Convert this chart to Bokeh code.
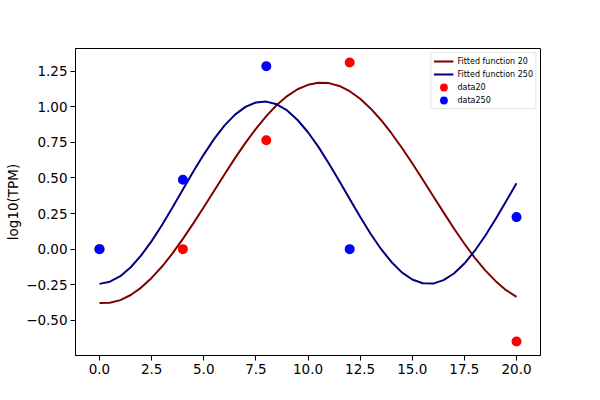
from bokeh.plotting import figure
from bokeh.models import Range1d, FixedTicker, Legend, LegendItem
from bokeh.embed import file_html
from bokeh.resources import INLINE

# ---- data ----
time_points = [0, 4, 8, 12, 20]
data20 = [0.0, 0.0, 0.765, 1.311, -0.649]
data250 = [0.0, 0.487, 1.285, 0.0, 0.225]

fit_x = [0.0, 0.5, 1.0, 1.5, 2.0, 2.5, 3.0, 3.5, 4.0, 4.5, 5.0, 5.5, 6.0, 6.5,
         7.0, 7.5, 8.0, 8.5, 9.0, 9.5, 10.0, 10.5, 11.0, 11.5, 12.0, 12.5, 13.0,
         13.5, 14.0, 14.5, 15.0, 15.5, 16.0, 16.5, 17.0, 17.5, 18.0, 18.5, 19.0,
         19.5, 20.0]
fit20 = [-0.379, -0.377, -0.358, -0.322, -0.270, -0.202, -0.122, -0.030, 0.072,
         0.181, 0.294, 0.410, 0.526, 0.639, 0.746, 0.845, 0.934, 1.012, 1.075,
         1.123, 1.154, 1.169, 1.166, 1.146, 1.109, 1.056, 0.988, 0.907, 0.814,
         0.712, 0.603, 0.489, 0.373, 0.258, 0.145, 0.038, -0.061, -0.149,
         -0.225, -0.288, -0.335]
fit250 = [-0.244, -0.229, -0.190, -0.127, -0.044, 0.056, 0.169, 0.292, 0.419,
          0.545, 0.664, 0.774, 0.869, 0.945, 0.999, 1.030, 1.036, 1.017, 0.974,
          0.907, 0.821, 0.718, 0.602, 0.479, 0.352, 0.227, 0.108, 0.001, -0.090,
          -0.163, -0.213, -0.240, -0.242, -0.218, -0.171, -0.101, -0.011, 0.094,
          0.211, 0.336, 0.463]

x_ticks = [0.0, 2.5, 5.0, 7.5, 10.0, 12.5, 15.0, 17.5, 20.0]
x_tick_labels = ["0.0", "2.5", "5.0", "7.5", "10.0", "12.5", "15.0", "17.5", "20.0"]
y_ticks = [-0.75, -0.5, -0.25, 0.0, 0.25, 0.5, 0.75, 1.0, 1.25]
y_tick_labels = ["\u22120.75", "\u22120.50", "\u22120.25", "0.00", "0.25", "0.50",
                 "0.75", "1.00", "1.25"]

FONT = "DejaVu Sans"

p = figure(width=584, height=384, output_backend="svg", toolbar_location=None,
           x_range=Range1d(-1.15, 21.15), y_range=Range1d(-0.747, 1.409),
           min_border_left=75, min_border_right=44, min_border_top=48,
           min_border_bottom=29)
p.background_fill_color = "white"
p.border_fill_color = "white"
p.outline_line_color = "black"
p.outline_line_width = 1
p.xgrid.visible = False
p.ygrid.visible = False

l20 = p.line(fit_x, fit20, line_color="#800000", line_width=2)
l250 = p.line(fit_x, fit250, line_color="#000080", line_width=2)
s20 = p.scatter(time_points, data20, size=7, line_width=3,
                fill_color="#ff0000", line_color="#ff0000")
s250 = p.scatter(time_points, data250, size=7, line_width=3,
                 fill_color="#0000ff", line_color="#0000ff")

for ax in (p.xaxis[0], p.yaxis[0]):
    ax.axis_line_color = "black"
    ax.major_tick_line_color = "black"
    ax.major_tick_out = 5
    ax.major_tick_in = 0
    ax.minor_tick_line_color = None
    ax.major_label_text_font = FONT
    ax.major_label_text_font_size = "13.5px"
    ax.major_label_text_color = "black"
    ax.major_label_standoff = 3

p.xaxis.ticker = FixedTicker(ticks=x_ticks)
p.xaxis.major_label_overrides = {t: l for t, l in zip(x_ticks, x_tick_labels)}
p.yaxis.ticker = FixedTicker(ticks=y_ticks)
p.yaxis.major_label_overrides = {t: l for t, l in zip(y_ticks, y_tick_labels)}

p.yaxis.axis_label = "log10(TPM)"
p.yaxis.axis_label_text_font = FONT
p.yaxis.axis_label_text_font_size = "13.5px"
p.yaxis.axis_label_text_font_style = "normal"
p.yaxis.axis_label_text_color = "black"
p.yaxis.axis_label_standoff = 2

legend = Legend(items=[
    LegendItem(label="Fitted function 20", renderers=[l20]),
    LegendItem(label="Fitted function 250", renderers=[l250]),
    LegendItem(label="data20", renderers=[s20]),
    LegendItem(label="data250", renderers=[s250]),
], location="top_right")
legend.label_text_font = FONT
legend.label_text_font_size = "8px"
legend.label_text_color = "black"
legend.label_height = 12
legend.glyph_height = 12
legend.glyph_width = 20
legend.spacing = 1
legend.padding = 2
legend.margin = 4
legend.label_standoff = 4
legend.border_line_color = "#cccccc"
legend.border_line_width = 1
legend.background_fill_alpha = 0.8
p.add_layout(legend)

open("out.html", "w").write(file_html(p, INLINE))
